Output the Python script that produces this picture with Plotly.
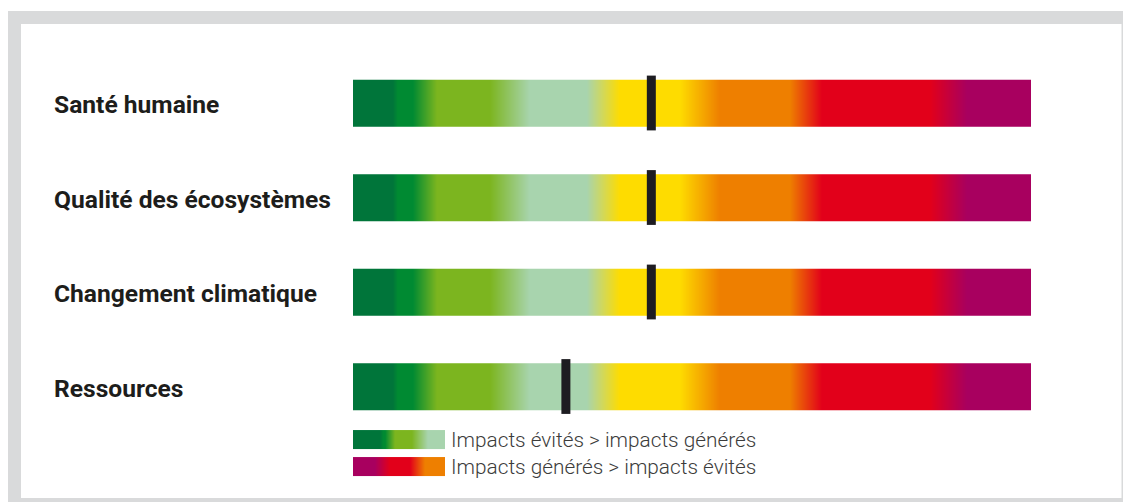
import numpy as np
import plotly.graph_objects as go

# ---- data -------------------------------------------------------------
categories = ["Santé humaine", "Qualité des écosystèmes",
              "Changement climatique", "Ressources"]
scores = [44.0, 44.0, 44.0, 31.4]          # position of the marker on the 0-100 scale
scale_min, scale_max = 0.0, 100.0
legend_labels = ["Impacts évités > impacts générés",
                 "Impacts générés > impacts évités"]

# ---- styles -----------------------------------------------------------
W, H = 1123, 502
ML, MR = 353, 92                  # plot area spans the gradient bars
ROW0_PX, ROW_STEP_PX = 103, 94.5  # pixel centre of first row, row spacing
BAR_HALF = 0.246                  # half bar height (row units)
MARK_HALF = 0.29                  # half marker height (row units)
SWATCH_LEN = 13.6                 # legend swatch length (scale units)
SWATCH_HALF = 0.1
LABEL_FONT = "Roboto, Liberation Sans, Arial, sans-serif"
LEGEND_FONT = "Roboto, Liberation Sans, Arial, sans-serif"

main_scale = [
    [0.0, "#00753a"], [0.059, "#00753a"], [0.066, "#008a32"], [0.0885, "#008a32"],
    [0.124, "#7cb51f"], [0.202, "#7cb51f"], [0.261, "#a8d4ae"], [0.345, "#a8d4ae"],
    [0.394, "#fedc00"], [0.482, "#fedc00"], [0.541, "#ee7f00"], [0.6445, "#ee7f00"],
    [0.6917, "#e2001a"], [0.851, "#e2001a"], [0.9056, "#a8005f"], [1.0, "#a8005f"],
]
avoided_scale = [
    [0.0, "#00753a"], [0.29, "#00753a"], [0.33, "#008a32"], [0.35, "#008a32"],
    [0.457, "#7cb51f"], [0.641, "#7cb51f"], [0.815, "#a8d4ae"], [1.0, "#a8d4ae"],
]
generated_scale = [
    [0.0, "#a8005f"], [0.239, "#a8005f"], [0.402, "#e2001a"], [0.62, "#e2001a"],
    [0.783, "#ee7f00"], [1.0, "#ee7f00"],
]

y_top = -ROW0_PX / ROW_STEP_PX
y_bot = y_top + H / ROW_STEP_PX


def py(px):
    """pixel row -> y data value"""
    return (px - ROW0_PX) / ROW_STEP_PX


def paper_x(px):
    return (px - ML) / (W - ML - MR)


def paper_y(px):
    return 1 - px / H


fig = go.Figure()

# gradient bars
n = 678
edges = np.linspace(scale_min, scale_max, n + 1)
centres = (edges[:-1] + edges[1:]) / 2
for i, cat in enumerate(categories):
    fig.add_trace(go.Heatmap(
        x=edges, y=[i - BAR_HALF, i + BAR_HALF], z=[centres],
        zmin=scale_min, zmax=scale_max, colorscale=main_scale,
        showscale=False, hoverinfo="skip", zsmooth=False,
    ))

# score markers
for i, s in enumerate(scores):
    fig.add_trace(go.Scatter(
        x=[s, s], y=[i - MARK_HALF, i + MARK_HALF], mode="lines",
        line=dict(color="#1d1c21", width=9), hoverinfo="skip", showlegend=False,
    ))

# legend swatches
sw_edges = np.linspace(0, SWATCH_LEN, 93)
sw_centres = (sw_edges[:-1] + sw_edges[1:]) / 2
legend_rows = [py(439.5), py(466.5)]
for yc, cs in zip(legend_rows, [avoided_scale, generated_scale]):
    fig.add_trace(go.Heatmap(
        x=sw_edges, y=[yc - SWATCH_HALF, yc + SWATCH_HALF], z=[sw_centres],
        zmin=0, zmax=SWATCH_LEN, colorscale=cs,
        showscale=False, hoverinfo="skip", zsmooth=False,
    ))

annotations = []
for i, cat in enumerate(categories):
    annotations.append(dict(
        x=paper_x(52), xref="paper", y=py(ROW0_PX + 1.5 + i * ROW_STEP_PX), yref="y",
        text=cat, xanchor="left", yanchor="middle", showarrow=False,
        font=dict(family=LABEL_FONT, size=24.6, color="#1d1d1b", weight=700),
    ))
for yc, lab in zip(legend_rows, legend_labels):
    annotations.append(dict(
        x=paper_x(449), xref="paper", y=yc, yref="y", text=lab,
        xanchor="left", yanchor="middle", showarrow=False,
        font=dict(family=LEGEND_FONT, size=20.8, color="#3c3c3b", weight=300),
    ))

# frame around the panel
shapes = [
    dict(type="rect", xref="paper", yref="paper", layer="below",
         x0=paper_x(8), x1=paper_x(1124), y0=paper_y(11), y1=paper_y(503),
         fillcolor="#d9dadb", line=dict(width=0)),
    dict(type="rect", xref="paper", yref="paper", layer="below",
         x0=paper_x(21), x1=paper_x(1121.5), y0=paper_y(24), y1=paper_y(498),
         fillcolor="#ffffff", line=dict(width=0)),
]

fig.update_layout(
    width=W, height=H,
    margin=dict(l=ML, r=MR, t=0, b=0, pad=0),
    paper_bgcolor="#ffffff", plot_bgcolor="rgba(0,0,0,0)",
    showlegend=False,
    xaxis=dict(range=[scale_min, scale_max], visible=False, fixedrange=True),
    yaxis=dict(range=[y_bot, y_top], visible=False, fixedrange=True),
    annotations=annotations, shapes=shapes,
)

fig.write_html("out.html", config={"displayModeBar": False})
